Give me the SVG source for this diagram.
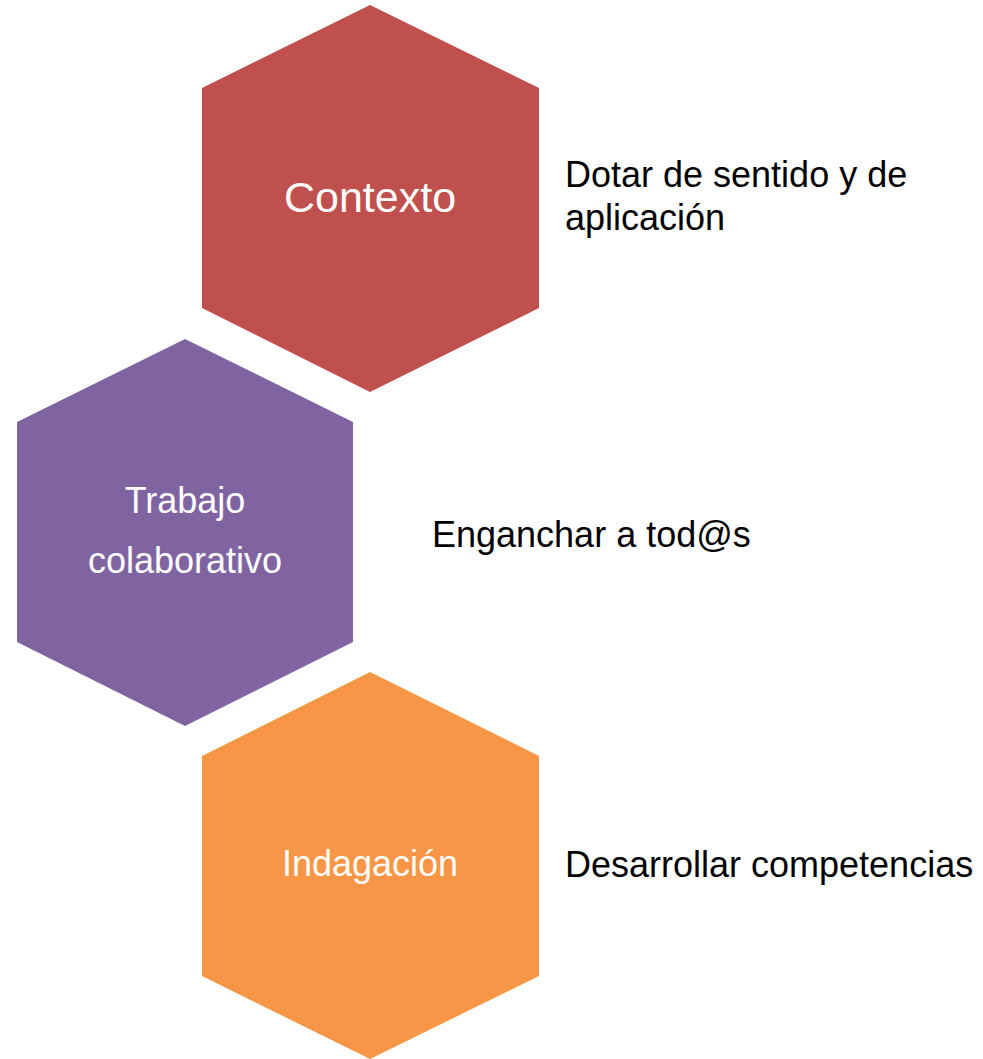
<svg xmlns="http://www.w3.org/2000/svg" width="983" height="1059" viewBox="0 0 983 1059">
<style>
.hl{font-family:"Liberation Sans",Arial,sans-serif;fill:#ffffff;text-anchor:middle}
.lb{font-family:"Liberation Sans",Arial,sans-serif;fill:#000000;font-size:36px}
</style>
<rect width="983" height="1059" fill="#ffffff"/>
<g id="connectors"></g>
<g id="contexto">
<polygon points="370,5 539,88 539,308 370,392 202,308 202,88" fill="#C0504D"/>
<text class="hl" x="370" y="212" font-size="43">Contexto</text>
</g>
<g id="trabajo">
<polygon points="185,339 353,422 353,642 185,726 17,642 17,422" fill="#8064A2"/>
<text class="hl" x="185" y="513" font-size="36">Trabajo</text>
<text class="hl" x="185" y="573" font-size="36">colaborativo</text>
</g>
<g id="indagacion">
<polygon points="370,672 539,756 539,976 370,1059 202,976 202,756" fill="#F79646"/>
<text class="hl" x="370" y="876" font-size="36">Indagación</text>
</g>
<g id="label-contexto">
<text class="lb" x="565" y="187">Dotar de sentido y de</text>
<text class="lb" x="565" y="230">aplicación</text>
</g>
<g id="label-trabajo">
<text class="lb" x="432" y="547">Enganchar a tod@s</text>
</g>
<g id="label-indagacion">
<text class="lb" x="565" y="877">Desarrollar competencias</text>
</g>
</svg>
